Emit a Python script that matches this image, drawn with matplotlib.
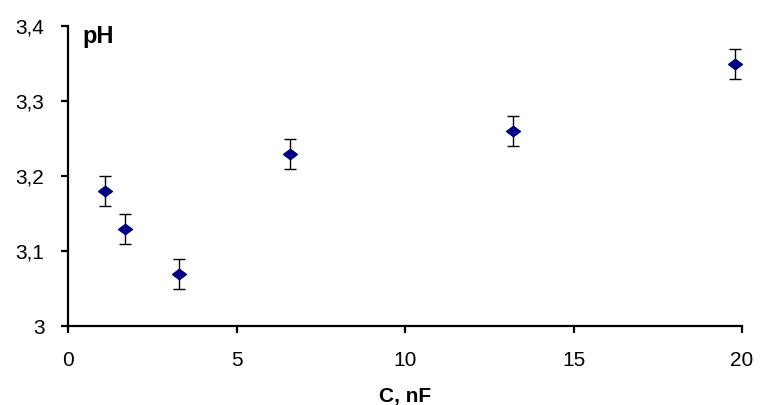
import matplotlib
matplotlib.use("Agg")
import matplotlib.pyplot as plt
from matplotlib.ticker import FuncFormatter

# capacitance (nF), pH and error
capacitance = [1.1, 1.7, 3.3, 6.6, 13.2, 19.8]
ph = [3.18, 3.13, 3.07, 3.23, 3.26, 3.35]
ph_err = [0.02, 0.02, 0.02, 0.02, 0.02, 0.02]
x_ticks = [0, 5, 10, 15, 20]
y_ticks = [3.0, 3.1, 3.2, 3.3, 3.4]

plt.rcParams['font.family'] = ['Liberation Sans', 'DejaVu Sans']

fig = plt.figure(figsize=(7.6, 4.05), dpi=100)
ax = fig.add_axes([68 / 760, 1 - 326 / 405, 674 / 760, 300 / 405])

# flattened diamond like the original marker
diamond = [(-1, 0), (0, 0.75), (1, 0), (0, -0.75), (-1, 0)]
ax.errorbar(capacitance, ph, yerr=ph_err, fmt='none', ecolor='black',
            elinewidth=1.0, capsize=4.3, capthick=1.0, zorder=2)
ax.plot(capacitance, ph, linestyle='none', marker=diamond, markersize=10,
        color='#000080', zorder=3)

ax.set_xlim(0, 20)
ax.set_ylim(3.0, 3.4)
ax.set_xticks(x_ticks)
ax.set_yticks(y_ticks)
ax.yaxis.set_major_formatter(FuncFormatter(
    lambda v, p: "3" if abs(v - 3) < 1e-9 else f"{v:.1f}".replace(".", ",")))

for side in ("top", "right"):
    ax.spines[side].set_visible(False)
for side in ("left", "bottom"):
    ax.spines[side].set_linewidth(1.6)
ax.tick_params(direction='out', length=5, width=1.6, labelsize=15)
ax.tick_params(axis='x', pad=13)
ax.tick_params(axis='y', pad=12)

ax.set_xlabel("C, nF", fontsize=15, fontweight='bold', labelpad=12)
ax.text(0.022, 1.005, "pH", transform=ax.transAxes, fontsize=17,
        fontweight='bold', va='top', ha='left')

fig.savefig("out.png", dpi=100)
